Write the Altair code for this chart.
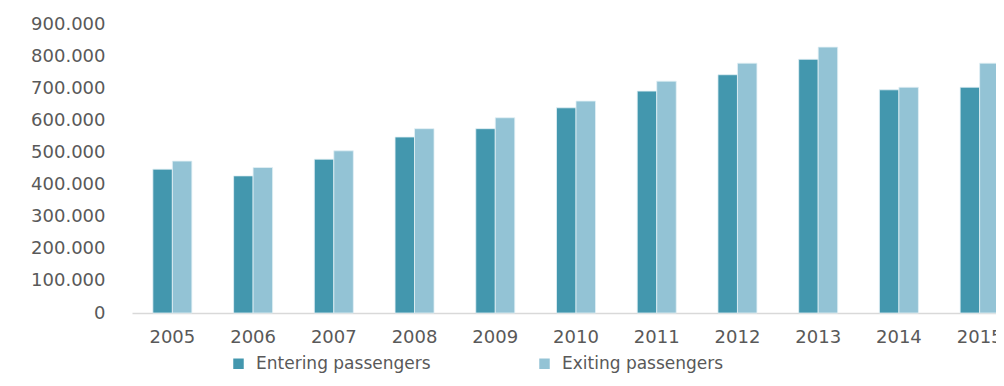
import altair as alt
import pandas as pd

years = ["2005", "2006", "2007", "2008", "2009", "2010", "2011", "2012", "2013", "2014", "2015"]
entering = [448000, 427000, 479000, 548000, 574000, 639000, 691000, 742000, 790000, 695000, 703000]
exiting = [473000, 453000, 505000, 574000, 608000, 660000, 722000, 778000, 828000, 703000, 778000]
series = ["Entering passengers", "Exiting passengers"]
colors = ["#4397AE", "#93C3D5"]
y_ticks = [0, 100000, 200000, 300000, 400000, 500000, 600000, 700000, 800000, 900000]

rows = []
for i, y in enumerate(years):
    rows.append({"year": y, "series": series[0], "value": entering[i]})
    rows.append({"year": y, "series": series[1], "value": exiting[i]})
df = pd.DataFrame(rows)

FONT = "DejaVu Sans"
GREY = "#595959"

chart = alt.Chart(df).mark_bar(stroke="#E2F0F5", strokeWidth=0.8).encode(
    x=alt.X("year:N", sort=years,
            scale=alt.Scale(range=[0, 888], paddingInner=0.517, paddingOuter=0.2585),
            axis=alt.Axis(title=None, labelAngle=0, ticks=False, domain=True,
                          domainColor="#D9D9D9", domainWidth=1.5,
                          labelFont=FONT, labelFontSize=18, labelColor=GREY,
                          labelPadding=15)),
    xOffset=alt.XOffset("series:N", sort=series,
                        scale=alt.Scale(paddingInner=0, paddingOuter=0)),
    y=alt.Y("value:Q",
            scale=alt.Scale(domain=[0, 900000], nice=False),
            axis=alt.Axis(title=None, values=y_ticks, grid=False, ticks=False, domain=False,
                          labelFont=FONT, labelFontSize=18, labelColor=GREY,
                          labelPadding=27,
                          labelExpr="replace(format(datum.value, ','), regexp(',', 'g'), '.')")),
    color=alt.Color("series:N", sort=series,
                    scale=alt.Scale(domain=series, range=colors),
                    legend=alt.Legend(title=None, orient="none", direction="horizontal",
                                      legendX=98, legendY=331,
                                      symbolType="square", symbolSize=110,
                                      symbolStrokeWidth=0, labelLimit=400,
                                      labelFont=FONT, labelFontSize=17, labelColor=GREY,
                                      labelOffset=9, columnPadding=105, padding=0)),
).properties(
    width=864,
    height=289,
    autosize=alt.AutoSizeParams(type="none"),
    padding={"left": 124, "top": 16, "right": 0, "bottom": 61},
).configure(background="white").configure_view(stroke=None)

chart.save("out.html", embed_options={"renderer": "svg", "actions": False})
